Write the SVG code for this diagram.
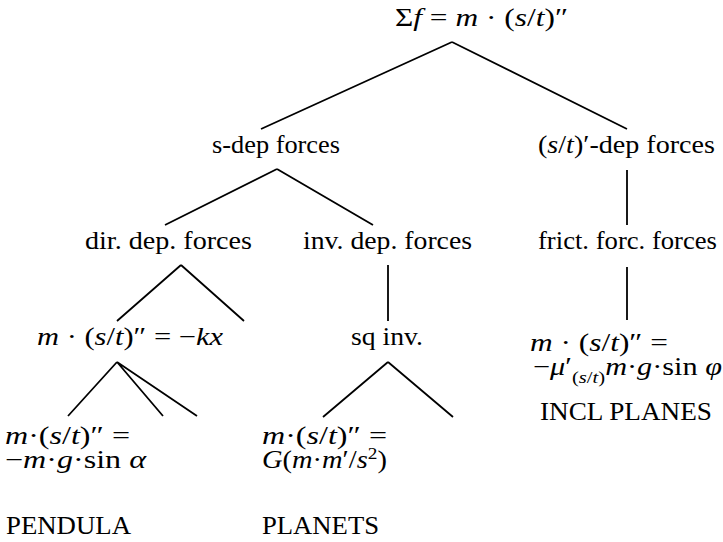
<svg xmlns="http://www.w3.org/2000/svg" width="723" height="542" viewBox="0 0 723 542">
<style>
text{font-family:"Liberation Serif","Times New Roman",serif;font-size:25px;fill:#000}
.i{font-style:italic}
.s{font-size:17px}
.c{fill:none;stroke:#000;stroke-width:1.8}
</style>
<rect width="723" height="542" fill="#fff"/>
<g id="connectors" class="c">
<path d="M452,42L261,129M452,42L627,129"/>
<path d="M277,169L165,225M277,169L373,225"/>
<path d="M627,170L627,225"/>
<path d="M181,265L117,321M181,265L244,321"/>
<path d="M388,265L388,321"/>
<path d="M627,267L627,320"/>
<path d="M117,362L68,416M117,362L163,416M117,362L197,416"/>
<path d="M388,362L323,417M388,362L453,417"/>
</g>
<g id="root"><text x="395" y="26" textLength="173" lengthAdjust="spacingAndGlyphs">Σ<tspan class="i">f</tspan> = <tspan class="i">m</tspan> · (<tspan class="i">s</tspan>/<tspan class="i">t</tspan>)″</text></g>
<g id="sdep"><text x="212" y="153" textLength="128" lengthAdjust="spacingAndGlyphs">s-dep forces</text></g>
<g id="vdep"><text x="538" y="153" textLength="177" lengthAdjust="spacingAndGlyphs">(<tspan class="i">s</tspan>/<tspan class="i">t</tspan>)′-dep forces</text></g>
<g id="dirdep"><text x="85" y="249" textLength="167" lengthAdjust="spacingAndGlyphs">dir. dep. forces</text></g>
<g id="invdep"><text x="303" y="249" textLength="169" lengthAdjust="spacingAndGlyphs">inv. dep. forces</text></g>
<g id="frict"><text x="538" y="249" textLength="179" lengthAdjust="spacingAndGlyphs">frict. forc. forces</text></g>
<g id="hooke"><text x="37" y="345" textLength="186" lengthAdjust="spacingAndGlyphs"><tspan class="i">m</tspan> · (<tspan class="i">s</tspan>/<tspan class="i">t</tspan>)″ = −<tspan class="i">kx</tspan></text></g>
<g id="sqinv"><text x="351" y="345" textLength="72" lengthAdjust="spacingAndGlyphs">sq inv.</text></g>
<g id="incl">
<text x="530" y="351" textLength="138" lengthAdjust="spacingAndGlyphs"><tspan class="i">m</tspan> · (<tspan class="i">s</tspan>/<tspan class="i">t</tspan>)″  =</text>
<text x="533" y="375" textLength="189" lengthAdjust="spacingAndGlyphs">−<tspan class="i">μ</tspan>′<tspan class="s" dy="8">(<tspan class="i">s</tspan>/<tspan class="i">t</tspan>)</tspan><tspan dy="-8" class="i">m</tspan>·<tspan class="i">g</tspan>·sin <tspan class="i">φ</tspan></text>
<text x="540" y="420" textLength="172" lengthAdjust="spacingAndGlyphs">INCL PLANES</text>
</g>
<g id="pendula">
<text x="5" y="444" textLength="125" lengthAdjust="spacingAndGlyphs"><tspan class="i">m</tspan>·(<tspan class="i">s</tspan>/<tspan class="i">t</tspan>)″ =</text>
<text x="5" y="468" textLength="141" lengthAdjust="spacingAndGlyphs">−<tspan class="i">m</tspan>·<tspan class="i">g</tspan>·sin <tspan class="i">α</tspan></text>
<text x="6" y="534" textLength="125" lengthAdjust="spacingAndGlyphs">PENDULA</text>
</g>
<g id="planets">
<text x="262" y="444" textLength="125" lengthAdjust="spacingAndGlyphs"><tspan class="i">m</tspan>·(<tspan class="i">s</tspan>/<tspan class="i">t</tspan>)″ =</text>
<text x="262" y="468" textLength="125" lengthAdjust="spacingAndGlyphs"><tspan class="i">G</tspan>(<tspan class="i">m</tspan>·<tspan class="i">m</tspan>′/<tspan class="i">s</tspan><tspan class="s" dy="-9">2</tspan><tspan dy="9">)</tspan></text>
<text x="262" y="534" textLength="117" lengthAdjust="spacingAndGlyphs">PLANETS</text>
</g>
</svg>
